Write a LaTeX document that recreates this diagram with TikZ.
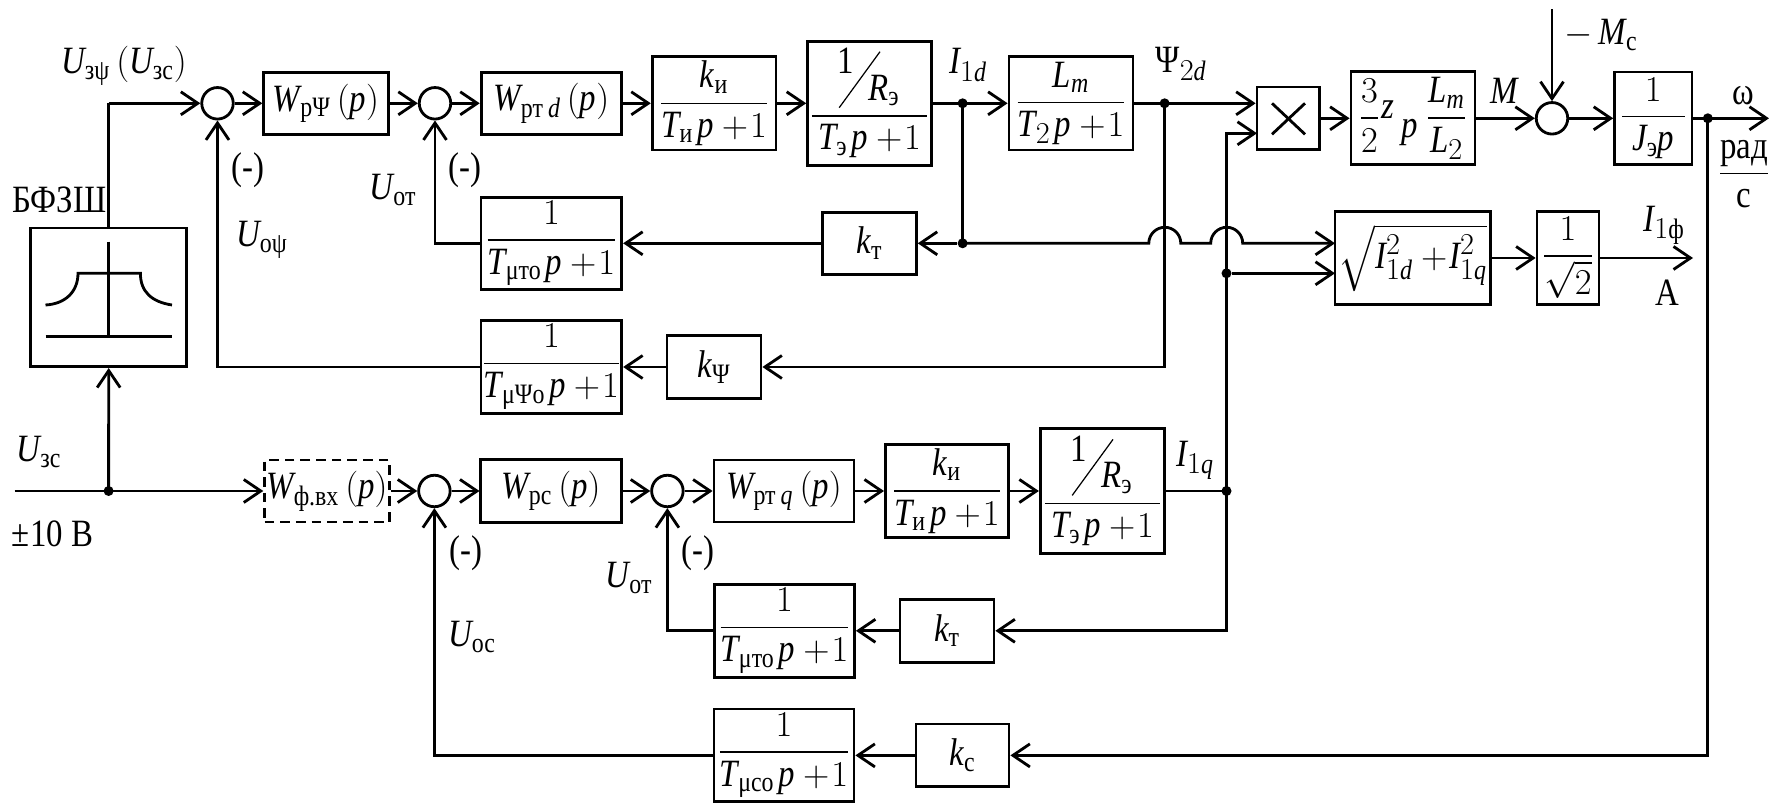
\documentclass[tikz,border=0pt]{standalone}
\usepackage{amsmath}
\usepackage{fontspec}
\setmainfont[FakeStretch=0.85]{Liberation Serif}
\usetikzlibrary{arrows.meta, positioning, calc}
\DeclareMathSizes{22}{22}{16}{12}
\newcommand{\mi}[1]{\textit{#1}}
\newcommand{\st}[1]{\text{#1}}
\newcommand{\ratio}[2]{\genfrac{}{}{0.8pt}{0}{#1}{#2}}
\newcommand{\den}[2]{\mi{#1}_{#2}\mkern2mu\mi{p}+\!1}
\tikzset{
	blk/.style 2 args={draw, line width=1.6pt, inner sep=0pt, minimum width=#1*0.02cm, minimum height=#2*0.02cm},
	sumc/.style={draw, circle, line width=1.6pt, inner sep=0pt, minimum size=0.63cm},
	jnt/.style={circle, fill=black, inner sep=0pt, minimum size=0.2cm},
	lab/.style={inner sep=0pt},
	conn/.style={line width=1.6pt},
	flow/.style={line width=1.6pt, -{Straight Barb[length=3.4mm, width=4.6mm]}},
}

\begin{document}
\begin{tikzpicture}[x=0.02cm, y=-0.02cm, font=\fontsize{22}{26}\selectfont]
	\useasboundingbox (0,0) rectangle (1769,803);

	\node[sumc] (s1) at (217.5,103.3) {};
	\node[blk={124.6}{62.3}] (wpsi) at (326,103.3) {$\mi{W}_{\st{рΨ}}\,(\mi{p})$};
	\node[sumc] (s2) at (435,103.3) {};
	\node[blk={140.5}{62.3}] (wtd) at (551.4,103.3) {$\mi{W}_{\st{рт}\,\mi{d}}\,(\mi{p})$};
	\node[blk={123.8}{93.3}] (kid) at (714.1,103.3) {$\ratio{\mi{k}_{\st{и}}}{\den{T}{\st{и}}}$};
	\node[blk={123.8}{124.3}] (red) at (869.5,103.3) {$\ratio{\raisebox{15pt}{1}\hspace{8pt}\mi{R}_{\st{э}}\hspace{1pt}}{\,\den{T}{\st{э}}\,}$};
	\node[blk={124}{93.3}] (lm) at (1071,103.3) {$\ratio{\mi{L}_{\mi{m}}}{\den{T}{2}}$};
	\node[blk={62.7}{62.7}] (mult) at (1288.4,118.3) {};
	\node[blk={124}{93}] (zp) at (1413,118.3) {$\ratio{3}{2}\hspace{1pt}\raisebox{5pt}{\mi{z}}\raisebox{-6pt}{\,\mi{p}}\hspace{5pt}\ratio{\mi{L}_{\mi{m}}}{\mi{L}_{2}}$};
	\node[sumc] (s3) at (1552,118.3) {};
	\node[blk={77.4}{92.7}] (jep) at (1653.3,118.3) {$\ratio{1}{\;\mi{J}_{\st{э}}\mi{p}\;}$};

	\node[blk={155.8}{138.7}] (bf) at (108.7,297.3) {};
	\node[blk={140.7}{92.3}] (tto) at (551.4,243.3) {$\ratio{1}{\den{T}{\st{μто}}}$};
	\node[blk={93.7}{62.3}] (kt) at (869.5,243.3) {$\mi{k}_{\st{т}}$};
	\node[blk={155.7}{92.6}] (sqr) at (1412.9,258) {$\sqrt{\mi{I}_{1\mi{d}}^{2}+\!\mi{I}_{1\mi{q}}^{2}}$};
	\node[blk={62}{92.6}] (rt2) at (1568,258) {$\ratio{1}{\sqrt{2}}$};
	\node[blk={140.7}{92.6}] (tpo) at (551.4,367) {$\ratio{1}{\den{T}{\st{μΨо}}}$};
	\node[blk={94}{62.3}] (kpsi) at (714,367) {$\mi{k}_{\st{Ψ}}$};

	\node[blk={124.6}{62}, dash pattern=on 5.5pt off 3.4pt] (wfv) at (327,491) {$\mi{W}_{\st{ф.вх}}\,(\mi{p})$};
	\node[sumc] (s4) at (434.4,491) {};
	\node[blk={140.2}{62.5}] (wpc) at (551,491) {$\mi{W}_{\st{рс}}\,(\mi{p})$};
	\node[sumc] (s5) at (667.4,491) {};
	\node[blk={140}{62}] (wtq) at (784,491) {$\mi{W}_{\st{рт}\,\mi{q}}\,(\mi{p})$};
	\node[blk={123}{92.6}] (kiq) at (946.9,491) {$\ratio{\mi{k}_{\st{и}}}{\den{T}{\st{и}}}$};
	\node[blk={124.4}{124.3}] (req) at (1102.5,491) {$\ratio{\raisebox{15pt}{1}\hspace{8pt}\mi{R}_{\st{э}}\hspace{1pt}}{\,\den{T}{\st{э}}\,}$};
	\node[blk={140}{93}] (ttq) at (784.5,630.8) {$\ratio{1}{\den{T}{\st{μто}}}$};
	\node[blk={94}{62.7}] (ktq) at (947,630.8) {$\mi{k}_{\st{т}}$};
	\node[blk={140}{92.7}] (tco) at (784,755.4) {$\ratio{1}{\den{T}{\st{μсо}}}$};
	\node[blk={93}{62.7}] (kc) at (962.5,755.4) {$\mi{k}_{\st{с}}$};

	\node[jnt] (jd) at (962.6,103.3) {};
	\node[jnt] (jdb) at (962.6,243.3) {};
	\node[jnt] (jpsi) at (1164.6,103.3) {};
	\node[jnt] (jqb) at (1226.5,273.3) {};
	\node[jnt] (jq) at (1226.5,491) {};
	\node[jnt] (jw) at (1707.8,118.3) {};
	\node[jnt] (ju) at (108.6,491) {};

	\coordinate (uin) at (14.7,491);
	\coordinate (mcin) at (1552,9.3);
	\coordinate (wout) at (1769,118.3);
	\coordinate (iout) at (1693,258);
	\coordinate (multb) at (1257,133.3);
	\coordinate (sqa) at (1335,243.3);
	\coordinate (sqb) at (1335,273.3);
	\coordinate (brA) at (1148.8,243.3);
	\coordinate (brB) at (1210.7,243.3);

	\draw[conn] (bf.north) -- (bf.north |- s1);
	\draw[flow] (bf.north |- s1) -- (s1.west);
	\draw[flow] (s1) -- (wpsi);
	\draw[flow] (wpsi) -- (s2);
	\draw[flow] (s2) -- (wtd);
	\draw[flow] (wtd) -- (kid);
	\draw[flow] (kid) -- (red);
	\draw[flow] (red) -- (lm);
	\draw[flow] (lm) -- (jpsi.center) -- (jpsi -| mult.west);
	\draw[flow] (mult) -- (zp);
	\draw[flow] (zp) -- (s3);
	\draw[flow] (mcin) -- (s3);
	\draw[flow] (s3) -- (jep);
	\draw[flow] (jep) -- (wout);
	\draw[conn] (jd.center) -- (jdb.center);
	\draw[flow] (jdb) -- (kt);
	\draw[flow] (kt) -- (tto);
	\draw[flow] (tto.west) -| (s2.south);
	\draw[flow] (jpsi.center) |- (kpsi.east);
	\draw[flow] (kpsi) -- (tpo);
	\draw[flow] (tpo.west) -| (s1.south);
	\draw[flow] (jdb.center) -- (brA) arc[start angle=180, end angle=0, radius=0.32cm] -- (brB) arc[start angle=180, end angle=0, radius=0.32cm] -- (sqa);
	\draw[flow] (jqb) -- (sqb);
	\draw[flow] (sqr) -- (rt2);
	\draw[flow] (rt2) -- (iout);
	\draw[flow] (jq.center) |- (multb);
	\draw[conn] (uin) -- (ju.center);
	\draw[flow] (ju.center) -- (bf.south);
	\draw[flow] (ju.center) -- (wfv.west);
	\draw[flow] (wfv) -- (s4);
	\draw[flow] (s4) -- (wpc);
	\draw[flow] (wpc) -- (s5);
	\draw[flow] (s5) -- (wtq);
	\draw[flow] (wtq) -- (kiq);
	\draw[flow] (kiq) -- (req);
	\draw[conn] (req) -- (jq.center);
	\draw[flow] (jq.center) |- (ktq.east);
	\draw[flow] (ktq) -- (ttq);
	\draw[flow] (ttq.west) -| (s5.south);
	\draw[flow] (jw.center) |- (kc.east);
	\draw[flow] (kc) -- (tco);
	\draw[flow] (tco.west) -| (s4.south);

	\draw[line width=0.7pt] ($(red)+(-30.3,4.4)$) -- ($(red)+(10.5,-51.6)$);
	\draw[line width=0.7pt] ($(req)+(-30.3,4.4)$) -- ($(req)+(10.5,-51.6)$);

	\draw[conn] (1272,103.3) -- (1305,134.3);
	\draw[conn] (1305,103.3) -- (1272,134.3);

	\draw[conn] (108.7,241.7) -- (108.7,336.5);
	\draw[conn] (45.5,336.5) -- (172,336.5);
	\draw[conn] (45.5,305) .. controls (65,304) and (78,292) .. (78,273.3) -- (140.4,273.3) .. controls (140.4,292) and (152,302) .. (172,305);

	\node[lab] (lbu) at (124,66) {$\mi{U}_{\st{зψ}}\,(\mi{U}_{\st{зс}})$};
	\node[lab] (lbf) at (59.5,200) {БФЗШ};
	\node[lab] (lm1) at (248,170) {(-)};
	\node[lab] (lm2) at (465,170) {(-)};
	\node[lab] (luo) at (393,190) {$\mi{U}_{\st{от}}$};
	\node[lab] (lup) at (262,240) {$\mi{U}_{\st{оψ}}$};
	\node[lab] (lid) at (968,65) {$\mi{I}_{1\mi{d}}$};
	\node[lab] (lpd) at (1181,64) {$\st{Ψ}_{2\mi{d}}$};
	\node[lab] (lmm) at (1504,91) {$\mi{M}$};
	\node[lab] (lmc) at (1601,35) {$-\,\mi{M}_{\st{с}}$};
	\node[lab] (lom) at (1743,96) {ω};
	\node[lab] (lrd) at (1744,174) {$\ratio{\st{рад}}{\st{с}}$};
	\node[lab] (lif) at (1664,225) {$\mi{I}_{1\st{ф}}$};
	\node[lab] (lam) at (1667,293) {А};
	\node[lab] (luz) at (39,452) {$\mi{U}_{\st{зс}}$};
	\node[lab] (lpm) at (52.5,534) {±10 В};
	\node[lab] (lm3) at (466,553) {(-)};
	\node[lab] (lm4) at (698,553) {(-)};
	\node[lab] (lut) at (629,578) {$\mi{U}_{\st{от}}$};
	\node[lab] (luc) at (472,637) {$\mi{U}_{\st{ос}}$};
	\node[lab] (liq) at (1195,460) {$\mi{I}_{1\mi{q}}$};
\end{tikzpicture}
\end{document}
